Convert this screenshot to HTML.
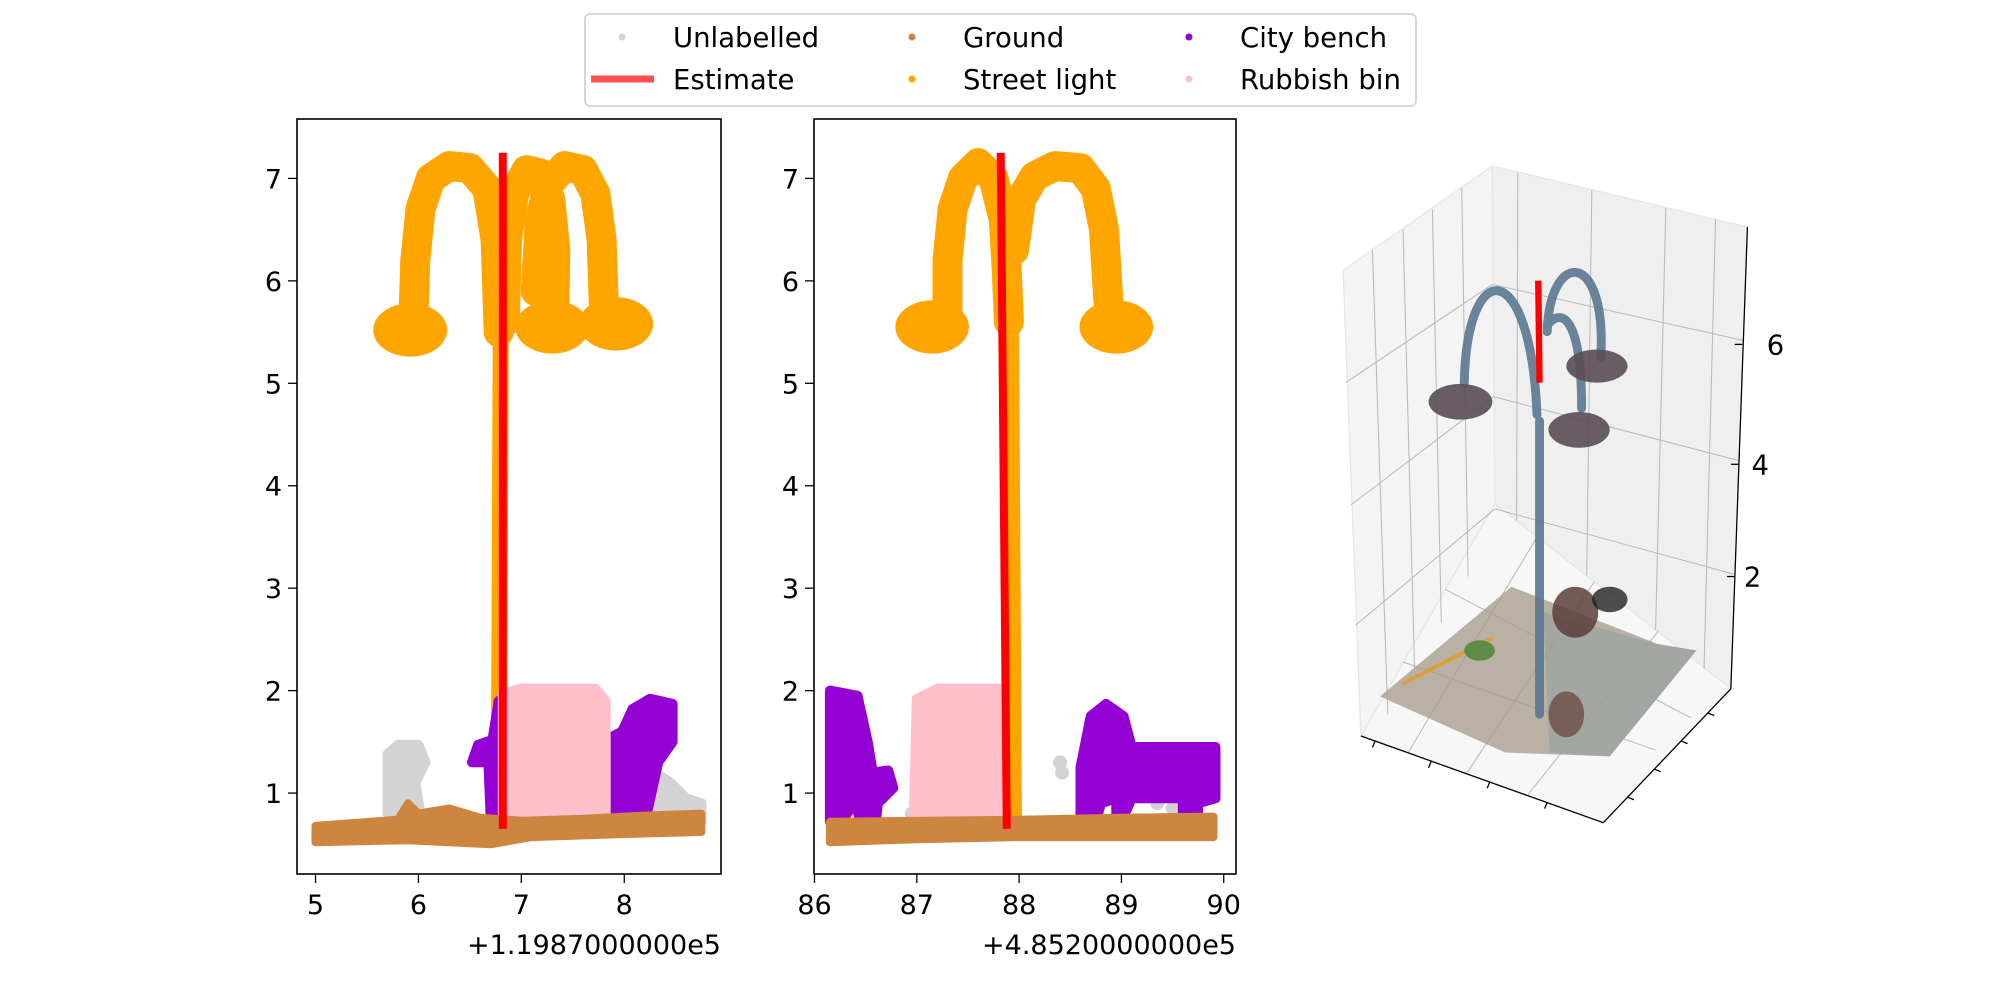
<!DOCTYPE html>
<html><head><meta charset="utf-8">
<style>
html,body{margin:0;padding:0;background:#fff;}
svg{display:block;font-family:"DejaVu Sans","Liberation Sans",sans-serif;}
</style></head>
<body>
<svg id="fig" width="2000" height="1000" viewBox="0 0 2000 1000" xmlns="http://www.w3.org/2000/svg">
  <g id="left"></g>
  <g id="mid"></g>
  <g id="three" transform="scale(1.2755)">
    <polygon points="1053,212 1170,130 1172,395 1067,577" fill="#f4f4f4" stroke="#e6e6e6"/>
    <polygon points="1170,130 1370,178 1357,540 1172,395" fill="#efefef" stroke="#e6e6e6"/>
    <polygon points="1067,577 1172,395 1357,540 1257,645" fill="#f7f7f7" stroke="#e6e6e6"/>
    <g stroke="#b8b8b8" stroke-width="0.8" fill="none">
      <line x1="1076" y1="196" x2="1088" y2="560"/><line x1="1100" y1="180" x2="1109" y2="524"/><line x1="1123" y1="164" x2="1130" y2="488"/><line x1="1146" y1="147" x2="1151" y2="452"/>
      <line x1="1190" y1="135" x2="1189" y2="408"/><line x1="1248" y1="149" x2="1244" y2="451"/><line x1="1306" y1="163" x2="1298" y2="494"/><line x1="1345" y1="172" x2="1336" y2="524"/>
      <line x1="1055" y1="300" x2="1170" y2="223" /><line x1="1059" y1="396" x2="1171" y2="311"/><line x1="1063" y1="490" x2="1172" y2="399"/>
      <line x1="1170" y1="223" x2="1367" y2="267"/><line x1="1171" y1="311" x2="1363" y2="361"/><line x1="1172" y1="399" x2="1359" y2="450"/>
      <line x1="1104" y1="590" x2="1205" y2="421"/><line x1="1150" y1="606" x2="1250" y2="456"/><line x1="1198" y1="623" x2="1300" y2="495"/>
      <line x1="1100" y1="519" x2="1298" y2="588"/><line x1="1133" y1="462" x2="1326" y2="563"/>
    </g>
    <g>
      <polygon points="1082,546 1185,460 1300,505 1330,510 1262,593 1180,590" fill="#a49a88" opacity="0.75"/>
      <polygon points="1210,480 1300,505 1330,510 1262,593 1215,590" fill="#9aa3a3" opacity="0.7"/>
      <line x1="1100" y1="536" x2="1170" y2="500" stroke="#d9a13a" stroke-width="3"/>
      <ellipse cx="1160" cy="510" rx="12" ry="8" fill="#5d8a45"/>
      <ellipse cx="1235" cy="480" rx="18" ry="20" fill="#5a3e3a" opacity="0.85"/>
      <ellipse cx="1262" cy="470" rx="14" ry="10" fill="#222" opacity="0.8"/>
      <ellipse cx="1228" cy="560" rx="14" ry="18" fill="#6b4d45" opacity="0.8"/>
      <path d="M1207,560 L1207,330 M1205,325 C1200,200 1150,200 1148,300 M1213,260 C1215,195 1260,195 1255,280 M1213,255 C1225,240 1240,250 1240,320" stroke="#5a7790" stroke-width="7" fill="none" stroke-linecap="round" opacity="0.9"/>
      <ellipse cx="1145" cy="315" rx="25" ry="14" fill="#5a4c55" opacity="0.9"/>
      <ellipse cx="1252" cy="287" rx="24" ry="13" fill="#5a4c55" opacity="0.9"/>
      <ellipse cx="1238" cy="337" rx="24" ry="14" fill="#5a4c55" opacity="0.9"/>
    </g>
    <line x1="1206" y1="220" x2="1207" y2="300" stroke="#ff0000" stroke-width="5"/>
    <g stroke="#000" stroke-width="1" fill="none">
      <line x1="1370" y1="178" x2="1357" y2="540"/>
      <line x1="1067" y1="577" x2="1257" y2="645"/>
      <line x1="1257" y1="645" x2="1357" y2="540"/>
      <line x1="1366" y1="270" x2="1360" y2="270"/><line x1="1363" y1="364" x2="1357" y2="364"/><line x1="1360" y1="452" x2="1354" y2="452"/>
      <line x1="1078" y1="581" x2="1076" y2="586"/><line x1="1122" y1="597" x2="1120" y2="602"/><line x1="1168" y1="613" x2="1166" y2="618"/><line x1="1213" y1="629" x2="1211" y2="634"/>
      <line x1="1276" y1="625" x2="1281" y2="627"/><line x1="1297" y1="603" x2="1302" y2="605"/><line x1="1318" y1="581" x2="1323" y2="583"/><line x1="1339" y1="559" x2="1344" y2="561"/>
    </g>
    <g font-size="21.5" fill="#000">
      <text x="1392" y="278" text-anchor="middle">6</text>
      <text x="1380" y="372" text-anchor="middle">4</text>
      <text x="1374" y="460" text-anchor="middle">2</text>
    </g>
  </g>
  <g id="legend">
    <rect x="585" y="14" width="831" height="92" rx="5" fill="#fff" stroke="#d6d6d6" stroke-width="2"/>
  </g>
</svg>
<script>
// ---- data (offset units) ----
const yTicks = [1,2,3,4,5,6,7];
const xTicksL = [5,6,7,8];
const xTicksM = [86,87,88,89,90];
const groundL = [[5.0,0.52],[5.9,0.54],[6.3,0.52],[6.7,0.5],[7.1,0.57],[8.0,0.6],[8.75,0.62],[8.75,0.8],[8.2,0.78],[7.6,0.75],[7.0,0.73],[6.6,0.76],[6.3,0.85],[6.0,0.8],[5.9,0.9],[5.8,0.74],[5.0,0.68]];
const unlabL1 = [[5.7,0.8],[5.7,1.38],[5.8,1.47],[6.0,1.47],[6.07,1.3],[5.97,1.1],[6.02,0.8]];
const unlabL2 = [[8.25,0.75],[8.3,1.2],[8.45,1.1],[8.6,0.95],[8.75,0.9],[8.75,0.72]];
const benchL1 = [[6.52,1.3],[6.58,1.47],[6.72,1.52],[6.78,1.9],[6.9,1.9],[6.9,0.8],[6.7,0.8],[6.68,1.3]];
const benchL2 = [[7.78,0.8],[7.78,1.5],[7.98,1.6],[8.08,1.82],[8.25,1.92],[8.47,1.87],[8.47,1.5],[8.33,1.3],[8.22,0.8]];
const binL = [[6.82,0.75],[6.82,1.97],[7.0,2.02],[7.72,2.02],[7.82,1.9],[7.82,0.75]];
const armL1 = [[5.95,5.6],[5.97,6.2],[6.02,6.7],[6.12,7.0],[6.3,7.12],[6.5,7.1],[6.67,6.9],[6.75,6.4],[6.78,5.5]];
const armL2 = [[6.84,5.6],[6.86,6.4],[6.93,6.85],[7.05,7.08],[7.18,7.05],[7.28,6.8],[7.33,6.3],[7.32,5.6]];
const armL3 = [[7.14,5.9],[7.18,6.6],[7.27,6.95],[7.42,7.12],[7.6,7.08],[7.72,6.85],[7.78,6.4],[7.8,5.8],[7.85,5.55]];
const poleL = [[6.78,0.72],[6.8,5.6]];
const headsL = [[5.92,5.52],[7.3,5.55],[7.92,5.58]];
const estL = [[6.82,0.65],[6.82,7.25]];

const groundM = [[86.15,0.52],[87,0.55],[88,0.57],[89.9,0.57],[89.9,0.77],[89,0.76],[88,0.74],[86.15,0.72]];
const unlabM = [[86.95,0.8],[88.4,1.3],[88.42,1.2],[89.35,0.9],[86.5,0.82],[89.5,0.85]];
const benchM1 = [[86.15,0.72],[86.15,2.0],[86.42,1.95],[86.52,1.5],[86.57,1.2],[86.72,1.22],[86.77,1.05],[86.62,0.9],[86.6,0.72],[86.45,0.72],[86.4,0.9],[86.25,0.72]];
const binM = [[86.97,0.72],[87.0,1.92],[87.2,2.02],[87.82,2.02],[87.87,0.75]];
const benchM2 = [[88.6,0.8],[88.6,1.25],[88.65,1.5],[88.7,1.75],[88.85,1.87],[89.02,1.75],[89.1,1.45],[89.92,1.45],[89.92,0.95],[89.75,0.9],[89.75,0.72],[89.6,0.72],[89.6,0.95],[89.1,0.95],[89.0,0.72],[88.95,0.72],[88.95,0.95],[88.8,0.9],[88.75,0.72],[88.7,0.72]];
const armM1 = [[87.3,5.6],[87.3,6.2],[87.35,6.7],[87.45,7.0],[87.6,7.15],[87.75,7.0],[87.85,6.6],[87.88,6.1],[87.9,5.6]];
const armM2 = [[87.95,6.3],[88.02,6.8],[88.15,7.02],[88.35,7.12],[88.6,7.1],[88.75,6.9],[88.83,6.5],[88.86,6.0],[88.88,5.7]];
const poleM = [[87.95,0.72],[87.92,5.8]];
const headsM = [[87.15,5.55],[88.95,5.55]];
const estM = [[87.82,7.25],[87.88,0.65]];

const NS='http://www.w3.org/2000/svg';
const C={grey:'#d3d3d3',ground:'#cd853f',light:'#ffa500',bench:'#9400d3',bin:'#ffc0cb',est:'#ff0000'};
const Y0=874,Y1=119,ymin=0.21,ymax=7.58;
function yPx(v){return Y0-(v-ymin)/(ymax-ymin)*(Y0-Y1);}
function mk(tag,attrs,parent){const e=document.createElementNS(NS,tag);for(const k in attrs)e.setAttribute(k,attrs[k]);parent.appendChild(e);return e;}

function panel(g,X0,X1,xmin,xmax,xticks,offset,series){
  const xPx=v=>X0+(v-xmin)/(xmax-xmin)*(X1-X0);
  const pts=a=>a.map(p=>xPx(p[0]).toFixed(1)+','+yPx(p[1]).toFixed(1)).join(' ');
  series.forEach(s=>{
    let el;
    if(s.type==='poly'){el=mk('polygon',{points:pts(s.d),fill:s.c,stroke:s.c,'stroke-width':s.w||10,'stroke-linejoin':'round'},g);}
    else if(s.type==='line'){el=mk('polyline',{points:pts(s.d),fill:'none',stroke:s.c,'stroke-width':s.w,'stroke-linejoin':'round','stroke-linecap':s.cap||'round'},g);}
    else if(s.type==='heads'){s.d.forEach(p=>{
        const h=mk('ellipse',{cx:xPx(p[0]),cy:yPx(p[1]),rx:(xPx(0.36)-xPx(0)),ry:(yPx(0)-yPx(0.26)),fill:s.c},g);
        
        
      });return;}
    else if(s.type==='dots'){s.d.forEach(p=>{
        const d=mk('circle',{cx:xPx(p[0]),cy:yPx(p[1]),r:7,fill:s.c},g);
        
        
      });return;}
    
    
  });
  const box=mk('rect',{x:X0,y:Y1,width:X1-X0,height:Y0-Y1,fill:'none',stroke:'#000','stroke-width':1.6},g);
  
  
  xticks.forEach(t=>{
    const x=xPx(t);
    mk('line',{x1:x,y1:Y0,x2:x,y2:Y0+9,stroke:'#000','stroke-width':1.3},g);
    const tx=mk('text',{x:x,y:Y0+40,'font-size':27,'text-anchor':'middle'},g);
    tx.textContent=t;
    
    
  });
  yTicks.forEach(t=>{
    const y=yPx(t);
    mk('line',{x1:X0,y1:y,x2:X0-9,y2:y,stroke:'#000','stroke-width':1.3},g);
    const tx=mk('text',{x:X0-15,y:y+10,'font-size':27,'text-anchor':'end'},g);
    tx.textContent=t;
    
    
  });
  const off=mk('text',{x:X1,y:954,'font-size':27,'text-anchor':'end'},g);
  off.textContent=offset;
  
  
}

panel(document.getElementById('left'),297,721,4.82,8.94,xTicksL,'+1.1987000000e5',[
  {type:'poly',d:unlabL1,c:C.grey,n:'unlabelled-left'},
  {type:'poly',d:unlabL2,c:C.grey,n:'unlabelled-right'},
  {type:'line',d:poleL,c:C.light,w:16,n:'street-light-pole'},
  {type:'poly',d:benchL1,c:C.bench,n:'city-bench-left'},
  {type:'poly',d:benchL2,c:C.bench,n:'city-bench-right'},
  {type:'poly',d:binL,c:C.bin,n:'rubbish-bin'},
  {type:'poly',d:groundL,c:C.ground,w:8,n:'ground'},
  {type:'line',d:armL1,c:C.light,w:30,n:'street-light-arm-1'},
  {type:'line',d:armL2,c:C.light,w:30,n:'street-light-arm-2'},
  {type:'line',d:armL3,c:C.light,w:30,n:'street-light-arm-3'},
  {type:'heads',d:headsL,c:C.light},
  {type:'line',d:estL,c:C.est,w:8,cap:'butt',n:'estimate-line'}
]);
panel(document.getElementById('mid'),814,1236,85.995,90.12,xTicksM,'+4.8520000000e5',[
  {type:'dots',d:unlabM,c:C.grey},
  {type:'line',d:poleM,c:C.light,w:16,n:'street-light-pole'},
  {type:'poly',d:benchM1,c:C.bench,n:'city-bench-left'},
  {type:'poly',d:benchM2,c:C.bench,n:'city-bench-right'},
  {type:'poly',d:binM,c:C.bin,n:'rubbish-bin'},
  {type:'poly',d:groundM,c:C.ground,w:8,n:'ground'},
  {type:'line',d:armM1,c:C.light,w:30,n:'street-light-arm-1'},
  {type:'line',d:armM2,c:C.light,w:30,n:'street-light-arm-2'},
  {type:'heads',d:headsM,c:C.light},
  {type:'line',d:estM,c:C.est,w:8,cap:'butt',n:'estimate-line'}
]);

// legend
const legLabels=['Unlabelled','Estimate','Ground','Street light','City bench','Rubbish bin'];
const legColors=[C.grey,'#ff5050',C.ground,C.light,C.bench,C.bin];
const legCols=[622,912,1189];
const legRows=[37,79];
const lg=document.getElementById('legend');
legLabels.forEach((lab,i)=>{
  const col=Math.floor(i/2),row=i%2;
  const mx=legCols[col],my=legRows[row];
  const ent=mk('g',{},lg);
  
  
  if(lab==='Estimate'){mk('line',{x1:591,y1:my,x2:654,y2:my,stroke:legColors[i],'stroke-width':7},ent);}
  else{mk('circle',{cx:mx,cy:my,r:3.5,fill:legColors[i]},ent);}
  const t=mk('text',{x:legCols[col]+51,y:my+10,'font-size':27.5},ent);
  t.textContent=lab;
});
</script>
</body></html>
